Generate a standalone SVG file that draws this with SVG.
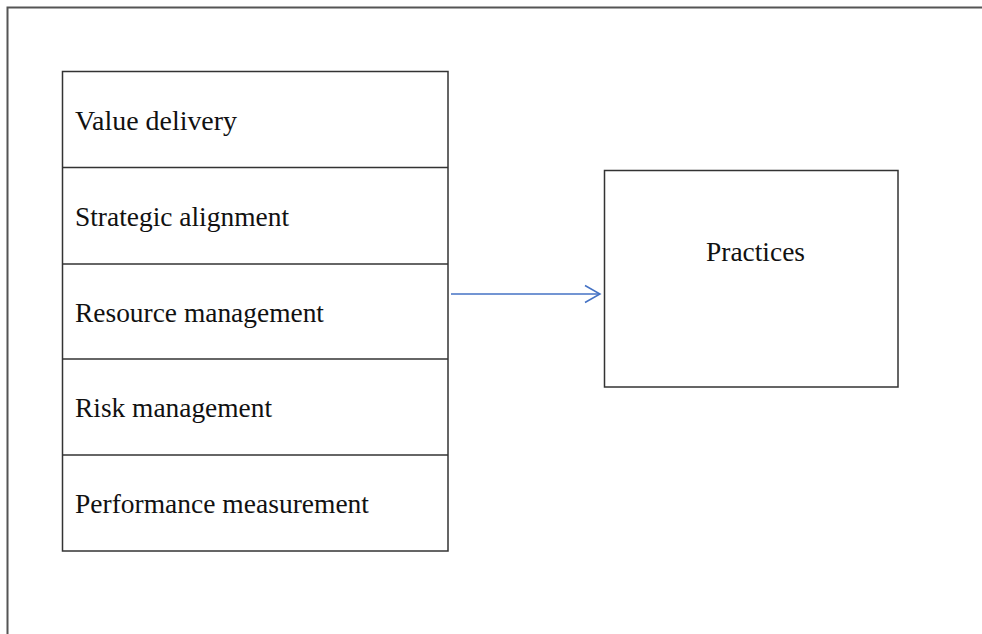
<svg xmlns="http://www.w3.org/2000/svg" width="982" height="634" viewBox="0 0 982 634">
<style>
.box{fill:#fff;stroke:#333;stroke-width:1.5}
.div{stroke:#333;stroke-width:1.5}
.t{font-family:"Liberation Serif","Times New Roman",serif;font-size:27px;fill:#111}
.frame{fill:none;stroke:#555;stroke-width:2}
.conn{stroke:#4472C4;stroke-width:1.5;fill:none}
</style>
<rect width="982" height="634" fill="#fff"/>
<path class="frame" d="M7.5,634 V7.5 H982"/>
<g id="factors">
<rect class="box" x="62.5" y="71.5" width="385.5" height="479.5"/>
<line class="div" x1="62.5" y1="167.5" x2="448" y2="167.5"/>
<line class="div" x1="62.5" y1="264" x2="448" y2="264"/>
<line class="div" x1="62.5" y1="359" x2="448" y2="359"/>
<line class="div" x1="62.5" y1="455" x2="448" y2="455"/>
<text class="t" x="75" y="130" textLength="162" lengthAdjust="spacingAndGlyphs">Value delivery</text>
<text class="t" x="75" y="226" textLength="214" lengthAdjust="spacingAndGlyphs">Strategic alignment</text>
<text class="t" x="75" y="322" textLength="249" lengthAdjust="spacingAndGlyphs">Resource management</text>
<text class="t" x="75" y="417" textLength="197" lengthAdjust="spacingAndGlyphs">Risk management</text>
<text class="t" x="75" y="513" textLength="294" lengthAdjust="spacingAndGlyphs">Performance measurement</text>
</g>
<g id="practices">
<rect class="box" x="604.5" y="170.5" width="293.5" height="216.5"/>
<text class="t" x="706" y="261" textLength="99" lengthAdjust="spacingAndGlyphs">Practices</text>
</g>
<g id="connectors">
<path class="conn" d="M451,294 H600"/>
<path class="conn" d="M585,285.5 L600,294 L585,302.5"/>
</g>
</svg>
